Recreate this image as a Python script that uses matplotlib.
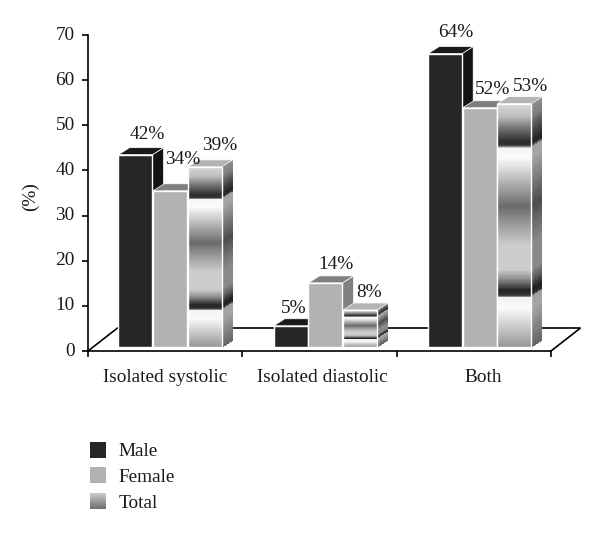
import numpy as np
import matplotlib
matplotlib.use("Agg")
import matplotlib.pyplot as plt
from matplotlib.patches import Polygon, Rectangle, Patch
from matplotlib.legend_handler import HandlerBase

categories = ["Isolated systolic", "Isolated diastolic", "Both"]
series_names = ["Male", "Female", "Total"]
male_heights = [42.6, 4.7, 65.0]
female_heights = [34.6, 14.2, 53.0]
total_heights = [39.9, 8.2, 53.9]
male_labels = ["42%", "5%", "64%"]
female_labels = ["34%", "14%", "52%"]
total_labels = ["39%", "8%", "53%"]
y_ticks = [0, 10, 20, 30, 40, 50, 60, 70]

W, H = 600, 534
plt.rcParams["font.family"] = ["Liberation Serif", "DejaVu Serif"]
FS = 13.9
INK = "#1a1a1a"

fig = plt.figure(figsize=(W / 100, H / 100), dpi=100, facecolor="white")
ax = fig.add_axes([88 / W, 1 - 351 / H, 463 / W, 316 / H])
ax.set_xlim(0, 3)
ax.set_ylim(0, 70)
PX = 3 / 463
PY = 70 / 316

for s in ("top", "right"):
    ax.spines[s].set_visible(False)
for s in ("left", "bottom"):
    ax.spines[s].set_linewidth(1.2)
    ax.spines[s].set_color("black")

ax.set_yticks(y_ticks)
ax.set_xticks([0, 1, 2, 3])
ax.set_xticklabels([])
ax.set_xticks([0.5, 1.52, 2.56], minor=True)
ax.set_xticklabels(categories, minor=True, fontsize=FS, color=INK)
ax.tick_params(axis="x", which="minor", length=0, pad=13)
ax.tick_params(axis="x", which="major", length=4.5, width=1.2)
ax.tick_params(axis="y", length=4.5, width=1.2, pad=5, labelsize=FS, labelcolor=INK)
for t in ax.get_yticklabels():
    t.set_verticalalignment("center")
ax.set_ylabel("(%)", fontsize=FS, color=INK)
ax.yaxis.set_label_coords((39 - 88) / 463, (351 - 197) / 316)

# floor of the pseudo-3D box
fx, fy = 29.5 * PX, 23 * PY
ax.plot([0, fx, 3 + fx, 3], [0, fy, fy, 0], color="black", lw=1.2, clip_on=False, zorder=1,
        solid_joinstyle="miter")

# gradient of the "Total" bars, from top of bar to bottom
stops = np.array([0, .05, .10, .155, .17, .18, .22, .30, .42, .50, .58, .68, .72, .765, .785, .795, .84, 1])
grays = np.array([.84, .74, .45, .17, .22, .96, .98, .76, .42, .62, .80, .80, .55, .14, .20, .95, .98, .58])

base = 4 * PY
dx, dy = 11 * PX, 7 * PY
bw = 34 * PX
step = 34.6 * PX
start = [30.5 * PX, 1 + 31.5 * PX, 2 + 31.5 * PX]
# label placement, pixels from the bar's front top-centre
nudges = {
    0: [(12, 20), (3, 17), (11, 21)],
    1: [(13, 31), (11, 18), (13, 18)],
    2: [(15, 21), (9, 17), (16, 17)],
}
solid = {0: ("#262626", "#1a1a1a", "#141414"), 1: ("#b2b2b2", "#808080", "#808080")}
heights = [male_heights, female_heights, total_heights]
labels = [male_labels, female_labels, total_labels]

z = 3
for c in range(3):
    for s in range(3):
        x0 = start[c] + s * step
        h = heights[s][c]
        top = base + h
        x1 = x0 + bw
        side = [(x1, base), (x1 + dx, base + dy), (x1 + dx, top + dy), (x1, top)]
        cap = [(x0, top), (x0 + dx, top + dy), (x1 + dx, top + dy), (x1, top)]
        if s < 2:
            front, capc, sidec = solid[s]
            ax.add_patch(Polygon(side, fc=sidec, ec="white", lw=0.5, zorder=z, clip_on=False))
            ax.add_patch(Polygon(cap, fc=capc, ec="white", lw=0.5, zorder=z, clip_on=False))
            ax.add_patch(Rectangle((x0, base), bw, h, fc=front, ec="white", lw=1, zorder=z + .1, clip_on=False))
        else:
            f = np.linspace(0, 1, 300)
            g = np.interp(f[:-1], stops, grays)[:, None]
            ys = top - f * h
            ax.pcolormesh([x0, x1], ys[::-1], g[::-1], cmap="gray", vmin=0, vmax=1,
                          zorder=z, clip_on=False, rasterized=True, linewidth=0)
            X = np.tile([x1, x1 + dx], (300, 1))
            Y = np.column_stack([ys, ys + dy])
            ax.pcolormesh(X, Y, g * 0.62 + 0.04, cmap="gray", vmin=0, vmax=1,
                          zorder=z, clip_on=False, linewidth=0)
            ax.add_patch(Polygon(cap, fc="#b4b4b4", ec="white", lw=0.5, zorder=z, clip_on=False))
            ax.add_patch(Rectangle((x0, base), bw, h, fc="none", ec="white", lw=1, zorder=z + .1, clip_on=False))
        ox, oy = nudges[s][c]
        ax.annotate(labels[s][c], (x0 + bw / 2, top), xytext=(ox * .72, oy * .72),
                    textcoords="offset points", ha="center", va="center",
                    fontsize=FS, color=INK, zorder=50, annotation_clip=False)
        z += 1


class GradientHandler(HandlerBase):
    def create_artists(self, legend, orig, xd, yd, width, height, fontsize, trans):
        n = 24
        out = []
        for i in range(n):
            v = .80 - .36 * i / (n - 1)
            out.append(Rectangle((-xd, -yd + height * (1 - (i + 1) / n)), width, height / n + .3,
                                 fc=str(v), ec="none", transform=trans))
        return out


handles = [Patch(fc="#262626", ec="none"), Patch(fc="#b2b2b2", ec="none"), Patch(fc="#999999", ec="none", label="Total")]
fig.legend(handles, series_names, loc="upper left", bbox_to_anchor=(84 / W, 1 - 436 / H),
           frameon=False, fontsize=FS, labelcolor=INK, handlelength=0.83, handleheight=0.9,
           handletextpad=0.67, labelspacing=0.36, borderpad=0.3, borderaxespad=0,
           handler_map={handles[2]: GradientHandler()})

fig.savefig("out.png", dpi=100, facecolor="white")
